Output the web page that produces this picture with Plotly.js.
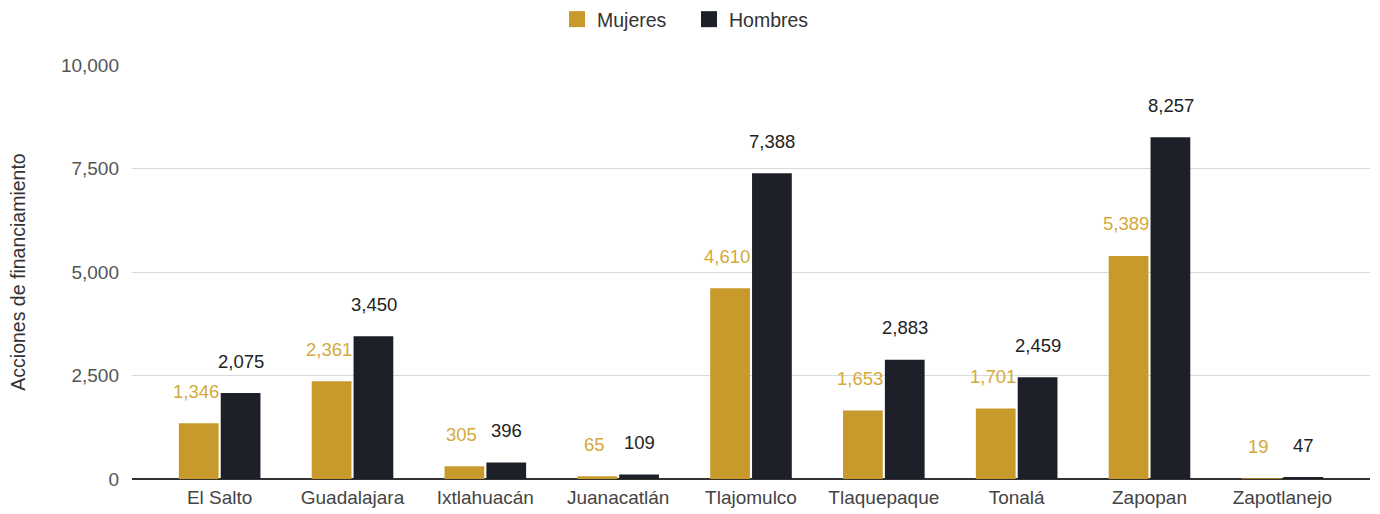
<!DOCTYPE html>
<html><head><meta charset="utf-8">
<script src="https://cdn.plot.ly/plotly-3.0.1.min.js"></script>
<style>body{margin:0;background:#fff}#c{width:1380px;height:514px}</style>
</head><body><div id="c"></div>
<script>
const categories = ["El Salto","Guadalajara","Ixtlahuacán","Juanacatlán","Tlajomulco","Tlaquepaque","Tonalá","Zapopan","Zapotlanejo"];
const mujeres = [1346,2361,305,65,4610,1653,1701,5389,19];
const hombres = [2075,3450,396,109,7388,2883,2459,8257,47];
const yTicks = [0,2500,5000,7500,10000];

const cMuj = "#C79A2B", cHom = "#1E2029";
const FONT = "'Liberation Sans', Arial, sans-serif";
const fmt = v => v.toLocaleString("en-US");

const traces = [
  {type:"bar", name:"Mujeres", x:categories, y:mujeres, marker:{color:cMuj}, showlegend:false},
  {type:"bar", name:"Hombres", x:categories, y:hombres, marker:{color:cHom}, showlegend:false},
  {type:"scatter", mode:"markers", name:"Mujeres", x:[null], y:[null], marker:{symbol:"square", size:21, color:cMuj}},
  {type:"scatter", mode:"markers", name:"Hombres", x:[null], y:[null], marker:{symbol:"square", size:21, color:cHom}}
];
const ann = [];
categories.forEach((c,i)=>{
  ann.push({x:c, y:mujeres[i], xref:"x", yref:"y", text:fmt(mujeres[i]), showarrow:false, xshift:-24, yshift:32, font:{family:FONT, size:18.5, color:"#D4A93A"}});
  ann.push({x:c, y:hombres[i], xref:"x", yref:"y", text:fmt(hombres[i]), showarrow:false, xshift:21, yshift:32, font:{family:FONT, size:18.5, color:"#222"}});
});
const layout = {
  width:1380, height:514,
  margin:{l:132, r:10, t:65, b:35},
  paper_bgcolor:"#fff", plot_bgcolor:"#fff",
  font:{family:FONT, size:19, color:"#444"},
  barmode:"group", bargap:0.37, bargroupgap:0.05,
  showlegend:true,
  legend:{orientation:"h", xref:"container", x:557/1380, xanchor:"left", y:1.0, yref:"container", yanchor:"top", font:{size:19.5, color:"#333"}, itemwidth:30, entrywidth:87, entrywidthmode:"pixels", traceorder:"normal"},
  xaxis:{type:"category", range:[-0.66, 8.66], showgrid:false, ticks:"", tickfont:{size:19, color:"#444"}, ticklabelstandoff:5, zeroline:false, showline:false},
  yaxis:{range:[0,10000], tickvals:yTicks, ticktext:yTicks.map(fmt), gridcolor:"#d9d9d9", gridwidth:1, zeroline:true, zerolinecolor:"#333", zerolinewidth:1.8, tickfont:{size:19, color:"#555"}, ticklen:0, ticklabelstandoff:12,
    title:{text:"Acciones de financiamiento", font:{size:19.5, color:"#333"}, standoff:30}},
  annotations:ann
};
Plotly.newPlot("c", traces, layout, {displayModeBar:false, staticPlot:true});
</script></body></html>
